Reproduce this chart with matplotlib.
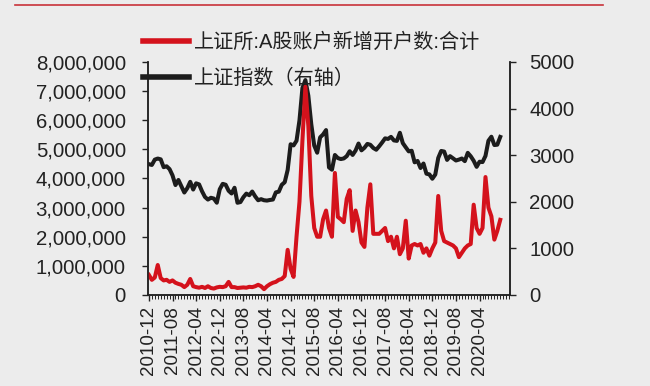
import numpy as np
import matplotlib
matplotlib.use('Agg')
from matplotlib import pyplot as plt
from matplotlib.lines import Line2D
from matplotlib.ticker import FuncFormatter, MultipleLocator

plt.rcParams['font.family'] = ['Liberation Sans', 'Noto Sans CJK SC', 'DejaVu Sans']

# monthly, 2010-12 .. 2020-11
new_accounts = np.array([
    0.69, 0.52, 0.60, 1.03, 0.58, 0.50, 0.52, 0.45, 0.50, 0.42, 0.38, 0.35,
    0.27, 0.35, 0.55, 0.30, 0.27, 0.25, 0.28, 0.24, 0.30, 0.24, 0.22, 0.26,
    0.28, 0.27, 0.30, 0.45, 0.27, 0.27, 0.24, 0.25, 0.26, 0.25, 0.28, 0.27,
    0.30, 0.35, 0.30, 0.20, 0.30, 0.37, 0.42, 0.45, 0.52, 0.55, 0.65, 1.55,
    0.90, 0.62, 2.00, 3.20, 5.30, 7.15, 5.80, 3.40, 2.30, 2.00, 2.00, 2.60,
    2.90, 2.30, 2.00, 4.19, 2.68, 2.60, 2.50, 3.30, 3.60, 2.20, 2.90, 2.50,
    1.80, 1.65, 3.00, 3.80, 2.10, 2.10, 2.10, 2.20, 2.30, 1.85, 2.00, 1.60,
    2.00, 1.40, 1.60, 2.55, 1.25, 1.70, 1.75, 1.70, 1.75, 1.45, 1.60, 1.35,
    1.60, 1.80, 3.40, 2.20, 1.85, 1.80, 1.75, 1.70, 1.60, 1.30, 1.45, 1.60,
    1.70, 1.75, 3.10, 2.30, 2.10, 2.30, 4.05, 3.00, 2.70, 1.90, 2.20, 2.58,
]) * 1e6

sse_index = [
    2808,
    2790, 2905, 2928, 2911, 2743, 2762, 2701, 2567, 2359, 2468, 2333, 2199,
    2292, 2428, 2263, 2396, 2373, 2225, 2103, 2047, 2086, 2069, 1980, 2269,
    2385, 2366, 2237, 2178, 2301, 1979, 1994, 2098, 2175, 2141, 2220, 2116,
    2033, 2056, 2033, 2026, 2039, 2048, 2202, 2217, 2364, 2420, 2683, 3235,
    3210, 3310, 3748, 4442, 4612, 4277, 3664, 3206, 3053, 3383, 3445, 3539,
    2738, 2688, 3004, 2938, 2917, 2930, 2979, 3085, 3005, 3100, 3250, 3104,
    3159, 3242, 3223, 3155, 3117, 3192, 3273, 3361, 3349, 3393, 3317, 3307,
    3481, 3259, 3169, 3082, 3095, 2847, 2876, 2725, 2821, 2603, 2588, 2494,
    2585, 2941, 3091, 3078, 2899, 2979, 2933, 2886, 2905, 2929, 2872, 3050,
    2977, 2880, 2750, 2860, 2852, 2985, 3310, 3396, 3218, 3225, 3392,
]

tick_labels = ['2010-12', '2011-08', '2012-04', '2012-12', '2013-08', '2014-04',
               '2014-12', '2015-08', '2016-04', '2016-12', '2017-08', '2018-04',
               '2018-12', '2019-08', '2020-04']

label_red = '上证所:A股账户新增开户数:合计'
label_black = '上证指数（右轴）'

bg = '#ececec'
red = '#d4121c'
black = '#1c1c1c'
txt = '#222222'

x = np.arange(len(new_accounts))

fig = plt.figure(figsize=(6.5, 3.86), dpi=100, facecolor=bg)
ax = fig.add_axes([0.2277, 0.2358, 0.5569, 0.6036])
ax2 = ax.twinx()
ax.set_zorder(ax2.get_zorder() + 1)
ax.patch.set_visible(False)
ax2.set_facecolor(bg)

l1, = ax.plot(x, new_accounts, color=red, lw=2.9, solid_joinstyle='round')
l2, = ax2.plot(x, sse_index, color=black, lw=2.9, solid_joinstyle='round')

ax.set_xlim(-0.3, 122.3)
ax.set_ylim(0, 8e6)
ax2.set_ylim(0, 5000)
ax.yaxis.set_major_locator(MultipleLocator(1e6))
ax.yaxis.set_major_formatter(FuncFormatter(lambda v, p: f'{int(v):,}'))
ax2.yaxis.set_major_locator(MultipleLocator(1000))

ax.set_xticks(np.arange(0, 8 * len(tick_labels), 8))
ax.set_xticklabels(tick_labels, rotation=90)
ax.xaxis.set_minor_locator(MultipleLocator(1))

for a in (ax, ax2):
    a.spines['top'].set_visible(False)
    for s in ('left', 'right', 'bottom'):
        a.spines[s].set_color(txt)
        a.spines[s].set_linewidth(1.1)
    a.tick_params(axis='both', which='major', direction='out', length=4,
                  width=1.0, color=txt, labelsize=14.7, labelcolor=txt)
    a.tick_params(axis='x', which='minor', direction='out', length=3,
                  width=0.7, color=txt)
ax.tick_params(axis='y', pad=12)
ax2.tick_params(axis='y', pad=10)
ax.tick_params(axis='x', labelsize=13.5, pad=4)

fig.legend([l1, l2], [label_red, label_black], loc='upper left',
           bbox_to_anchor=(0.207, 0.937), frameon=False, fontsize=14.5,
           handlelength=2.3, handletextpad=0.25, labelspacing=0.85,
           borderaxespad=0, labelcolor=txt)
for h in fig.legends[0].legend_handles:
    h.set_linewidth(4)

fig.add_artist(Line2D([0.023, 0.928], [0.987, 0.987], color='#c8323a', lw=1.2,
                      transform=fig.transFigure))

fig.savefig('out.png', dpi=100, facecolor=bg)
